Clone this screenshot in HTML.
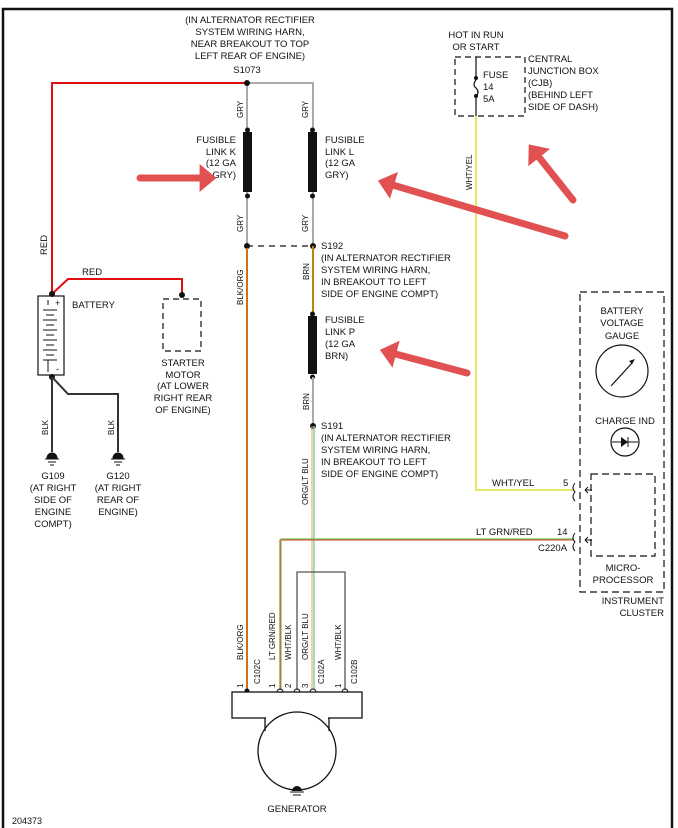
<!DOCTYPE html>
<html><head><style>
html,body{margin:0;padding:0;background:#fff;}
svg{display:block;}
text{font-family:"Liberation Sans",sans-serif;font-size:9.5px;fill:#111;}
.c{text-anchor:middle;}
</style></head><body>
<svg width="678" height="828" viewBox="0 0 678 828" xmlns="http://www.w3.org/2000/svg">
<defs>
<marker id="ah" markerWidth="4" markerHeight="4" refX="1.2" refY="2" orient="auto" markerUnits="strokeWidth"><path d="M0,0 L2.4,2 L0,4 z" fill="#e04848"/></marker>
</defs>
<path d="M3,828 V9 H672 V828" fill="none" stroke="#111" stroke-width="2.5"/>

<text class="c" x="250" y="23">(IN ALTERNATOR RECTIFIER</text>
<text class="c" x="250" y="35">SYSTEM WIRING HARN,</text>
<text class="c" x="250" y="47">NEAR BREAKOUT TO TOP</text>
<text class="c" x="250" y="59">LEFT REAR OF ENGINE)</text>
<text class="c" x="247" y="73">S1073</text>

<polyline points="247,83 52,83 52,294" fill="none" stroke="#e01010" stroke-width="2"/>
<text transform="translate(47,255) rotate(-90)" >RED</text>
<polyline points="52,294 68,279 182,279 182,295" fill="none" stroke="#e01010" stroke-width="2"/>
<text x="82" y="275">RED</text>
<polyline points="247,83 313,83 313,246" fill="none" stroke="#aaa" stroke-width="2"/>
<line x1="247" y1="83" x2="247" y2="246" stroke="#aaa" stroke-width="2"/>
<circle cx="247" cy="83" r="3" fill="#111"/>
<rect x="243" y="132" width="9" height="60" fill="#111"/>
<circle cx="247.5" cy="130" r="2.5" fill="#111"/><circle cx="247.5" cy="196" r="2.5" fill="#111"/>
<rect x="308" y="132" width="9" height="60" fill="#111"/>
<circle cx="312.5" cy="130" r="2.5" fill="#111"/><circle cx="312.5" cy="196" r="2.5" fill="#111"/>
<text transform="translate(243,118) rotate(-90)" style="font-size:8px">GRY</text>
<text transform="translate(243,232) rotate(-90)" style="font-size:8px">GRY</text>
<text transform="translate(308,118) rotate(-90)" style="font-size:8px">GRY</text>
<text transform="translate(308,232) rotate(-90)" style="font-size:8px">GRY</text>
<text x="236" y="143" text-anchor="end">FUSIBLE</text>
<text x="236" y="155" text-anchor="end">LINK K</text>
<text x="236" y="166" text-anchor="end">(12 GA</text>
<text x="236" y="178" text-anchor="end">GRY)</text>
<text x="325" y="143">FUSIBLE</text>
<text x="325" y="155">LINK L</text>
<text x="325" y="166">(12 GA</text>
<text x="325" y="178">GRY)</text>
<line x1="247" y1="246" x2="313" y2="246" stroke="#111" stroke-width="1.3" stroke-dasharray="6,5"/>
<circle cx="247" cy="246" r="3" fill="#111"/><circle cx="313" cy="246" r="3" fill="#111"/>
<text x="321" y="249">S192</text>
<text x="321" y="261">(IN ALTERNATOR RECTIFIER</text>
<text x="321" y="273">SYSTEM WIRING HARN,</text>
<text x="321" y="285">IN BREAKOUT TO LEFT</text>
<text x="321" y="297">SIDE OF ENGINE COMPT)</text>
<line x1="313" y1="246" x2="313" y2="312" stroke="#b8860b" stroke-width="2"/>
<text transform="translate(309,280) rotate(-90)" style="font-size:8px">BRN</text>
<rect x="308" y="316" width="9" height="58" fill="#111"/>
<circle cx="312.5" cy="314" r="2.5" fill="#111"/><circle cx="312.5" cy="377" r="2.5" fill="#111"/>
<text x="325" y="323">FUSIBLE</text>
<text x="325" y="335">LINK P</text>
<text x="325" y="347">(12 GA</text>
<text x="325" y="359">BRN)</text>
<line x1="313" y1="377" x2="313" y2="426" stroke="#aaa" stroke-width="2"/>
<text transform="translate(309,410) rotate(-90)" style="font-size:8px">BRN</text>
<circle cx="313" cy="426" r="3" fill="#111"/>
<text x="321" y="429">S191</text>
<text x="321" y="441">(IN ALTERNATOR RECTIFIER</text>
<text x="321" y="453">SYSTEM WIRING HARN,</text>
<text x="321" y="465">IN BREAKOUT TO LEFT</text>
<text x="321" y="477">SIDE OF ENGINE COMPT)</text>
<line x1="312" y1="426" x2="312" y2="690" stroke="#e8a040" stroke-width="1"/>
<line x1="314" y1="426" x2="314" y2="690" stroke="#80d0b0" stroke-width="1.5"/>
<text transform="translate(308,505) rotate(-90)" style="font-size:8px">ORG/LT BLU</text>
<line x1="247" y1="248" x2="247" y2="692" stroke="#d07010" stroke-width="2"/>
<text transform="translate(243,305) rotate(-90)" style="font-size:8px">BLK/ORG</text>

<rect x="38" y="296" width="26" height="79" fill="#fff" stroke="#111" stroke-width="1.2"/>
<g stroke="#111" stroke-width="1">
<line x1="48" y1="305" x2="48" y2="300"/>
<line x1="43" y1="310" x2="57" y2="310"/><line x1="46" y1="315" x2="54" y2="315"/>
<line x1="43" y1="320" x2="57" y2="320"/><line x1="46" y1="325" x2="54" y2="325"/>
<line x1="43" y1="330" x2="57" y2="330"/><line x1="46" y1="335" x2="54" y2="335"/>
<line x1="43" y1="340" x2="57" y2="340"/><line x1="46" y1="345" x2="54" y2="345"/>
<line x1="43" y1="350" x2="57" y2="350"/><line x1="46" y1="355" x2="54" y2="355"/>
<line x1="43" y1="360" x2="57" y2="360"/><line x1="48" y1="360" x2="48" y2="372"/>
</g>
<text x="55" y="306" style="font-size:9px">+</text>
<text x="56" y="372" style="font-size:9px">-</text>
<circle cx="52" cy="294" r="3" fill="#111"/>
<circle cx="52" cy="377" r="3" fill="#111"/>
<text x="72" y="308">BATTERY</text>
<rect x="163" y="299" width="38" height="52" fill="none" stroke="#111" stroke-width="1.2" stroke-dasharray="6,4"/>
<circle cx="182" cy="295" r="3" fill="#111"/>
<text class="c" x="183" y="366">STARTER</text>
<text class="c" x="183" y="378">MOTOR</text>
<text class="c" x="183" y="389">(AT LOWER</text>
<text class="c" x="183" y="401">RIGHT REAR</text>
<text class="c" x="183" y="413">OF ENGINE)</text>
<polyline points="52,377 52,452" fill="none" stroke="#333" stroke-width="2"/>
<polyline points="52,377 68,394 118,394 118,452" fill="none" stroke="#333" stroke-width="2"/>
<text transform="translate(48,435) rotate(-90)" style="font-size:8px">BLK</text>
<text transform="translate(114,435) rotate(-90)" style="font-size:8px">BLK</text>
<g fill="#111" stroke="#111">
<path d="M47,458 a5,5 0 0 1 10,0z"/><line x1="45" y1="459" x2="59" y2="459"/><line x1="48" y1="462" x2="56" y2="462"/><line x1="50" y1="465" x2="54" y2="465"/>
<path d="M113,458 a5,5 0 0 1 10,0z"/><line x1="111" y1="459" x2="125" y2="459"/><line x1="114" y1="462" x2="122" y2="462"/><line x1="116" y1="465" x2="120" y2="465"/>
</g>
<text class="c" x="53" y="479">G109</text>
<text class="c" x="53" y="491">(AT RIGHT</text>
<text class="c" x="53" y="503">SIDE OF</text>
<text class="c" x="53" y="515">ENGINE</text>
<text class="c" x="53" y="527">COMPT)</text>
<text class="c" x="118" y="479">G120</text>
<text class="c" x="118" y="491">(AT RIGHT</text>
<text class="c" x="118" y="503">REAR OF</text>
<text class="c" x="118" y="515">ENGINE)</text>

<rect x="455" y="57" width="70" height="59" fill="none" stroke="#111" stroke-width="1.2" stroke-dasharray="6,4"/>
<text class="c" x="476" y="38">HOT IN RUN</text>
<text class="c" x="476" y="50">OR START</text>
<line x1="476" y1="57" x2="476" y2="78" stroke="#111" stroke-width="1.2"/>
<path d="M476,80 q-4,5 0,8 q4,4 0,8" fill="none" stroke="#111" stroke-width="1.2"/>
<line x1="476" y1="96" x2="476" y2="116" stroke="#111" stroke-width="1.2"/>
<circle cx="476" cy="78" r="2" fill="#111"/><circle cx="476" cy="96" r="2" fill="#111"/>
<text x="483" y="78">FUSE</text>
<text x="483" y="90">14</text>
<text x="483" y="102">5A</text>
<text x="528" y="62">CENTRAL</text>
<text x="528" y="74">JUNCTION BOX</text>
<text x="528" y="86">(CJB)</text>
<text x="528" y="98">(BEHIND LEFT</text>
<text x="528" y="110">SIDE OF DASH)</text>
<polyline points="476,116 476,490 573,490" fill="none" stroke="#e8e860" stroke-width="2"/>
<text transform="translate(472,190) rotate(-90)" style="font-size:8px">WHT/YEL</text>
<text x="492" y="486">WHT/YEL</text>
<text x="563" y="486">5</text>
<polyline points="280,690 280,540 573,540" fill="none" stroke="#e03020" stroke-width="1"/>
<polyline points="281,690 281,539 573,539" fill="none" stroke="#70c050" stroke-width="1.2"/>
<text x="476" y="535">LT GRN/RED</text>
<text x="557" y="535">14</text>
<text x="538" y="551">C220A</text>
<polyline points="297,690 297,572 345,572 345,690" fill="none" stroke="#555" stroke-width="1.3"/>

<rect x="580" y="292" width="84" height="300" fill="none" stroke="#111" stroke-width="1.2" stroke-dasharray="7,4"/>
<rect x="591" y="474" width="64" height="82" fill="none" stroke="#111" stroke-width="1.2" stroke-dasharray="7,4"/>
<text class="c" x="622" y="314">BATTERY</text>
<text class="c" x="622" y="326">VOLTAGE</text>
<text class="c" x="622" y="339">GAUGE</text>
<circle cx="622" cy="371" r="26" fill="none" stroke="#111" stroke-width="1.2"/>
<line x1="611" y1="386" x2="633" y2="362" stroke="#111" stroke-width="1.2"/>
<path d="M635,359 l-6,2 l3,3z" fill="#111"/>
<text class="c" x="625" y="424">CHARGE IND</text>
<circle cx="625" cy="442" r="14" fill="none" stroke="#111" stroke-width="1.2"/>
<line x1="612" y1="442" x2="638" y2="442" stroke="#111"/>
<path d="M621,437 l7,5 l-7,5z" fill="#111"/><line x1="628" y1="437" x2="628" y2="447" stroke="#111"/>
<path d="M575,483 q-4,5 0,9 q-4,5 0,9" fill="none" stroke="#111"/>
<path d="M575,533 q-4,5 0,9 q-4,5 0,9" fill="none" stroke="#111"/>
<path d="M585,490 h7 M585,490 l3,-3 M585,490 l3,3" stroke="#111" fill="none"/>
<path d="M585,540 h7 M585,540 l3,-3 M585,540 l3,3" stroke="#111" fill="none"/>
<text class="c" x="623" y="571">MICRO-</text>
<text class="c" x="623" y="583">PROCESSOR</text>
<text x="664" y="604" text-anchor="end">INSTRUMENT</text>
<text x="664" y="616" text-anchor="end">CLUSTER</text>

<text transform="translate(243,660) rotate(-90)" style="font-size:8px">BLK/ORG</text>
<text transform="translate(275,660) rotate(-90)" style="font-size:8px">LT GRN/RED</text>
<text transform="translate(291,660) rotate(-90)" style="font-size:8px">WHT/BLK</text>
<text transform="translate(308,660) rotate(-90)" style="font-size:8px">ORG/LT BLU</text>
<text transform="translate(341,660) rotate(-90)" style="font-size:8px">WHT/BLK</text>
<text transform="translate(260,684) rotate(-90)" style="font-size:8px">C102C</text>
<text transform="translate(324,684) rotate(-90)" style="font-size:8px">C102A</text>
<text transform="translate(357,684) rotate(-90)" style="font-size:8px">C102B</text>
<text transform="translate(243,688) rotate(-90)" style="font-size:8px">1</text>
<text transform="translate(275,688) rotate(-90)" style="font-size:8px">1</text>
<text transform="translate(291,688) rotate(-90)" style="font-size:8px">2</text>
<text transform="translate(308,688) rotate(-90)" style="font-size:8px">3</text>
<text transform="translate(341,688) rotate(-90)" style="font-size:8px">1</text>
<g fill="none" stroke="#111">
<path d="M277,692 a3,3 0 0 1 6,0"/><path d="M294,692 a3,3 0 0 1 6,0"/><path d="M310,692 a3,3 0 0 1 6,0"/><path d="M342,692 a3,3 0 0 1 6,0"/>
</g>
<circle cx="247" cy="691" r="2.5" fill="#111"/>
<rect x="232" y="692" width="130" height="26" fill="#fff" stroke="#111" stroke-width="1.3"/>
<line x1="265" y1="718" x2="265" y2="731" stroke="#111" stroke-width="1.3"/>
<line x1="329" y1="718" x2="329" y2="731" stroke="#111" stroke-width="1.3"/>
<line x1="266" y1="718" x2="328" y2="718" stroke="#fff" stroke-width="2"/>
<circle cx="297" cy="751" r="39" fill="none" stroke="#111" stroke-width="1.3"/>
<path d="M292,791 a5,5 0 0 1 10,0z" fill="#111"/>
<line x1="290" y1="792" x2="304" y2="792" stroke="#111"/><line x1="293" y1="795" x2="301" y2="795" stroke="#111"/>
<text class="c" x="297" y="812">GENERATOR</text>
<text x="12" y="824" style="font-size:9px">204373</text>

<g stroke="#e04848" stroke-width="7" stroke-linecap="round" fill="none" marker-end="url(#ah)" opacity="0.95">
<line x1="140" y1="178" x2="208" y2="178"/>
<line x1="565" y1="236" x2="386" y2="183"/>
<line x1="467" y1="373" x2="388" y2="352"/>
<line x1="573" y1="200" x2="534" y2="151"/>
</g>
</svg>
</body></html>
